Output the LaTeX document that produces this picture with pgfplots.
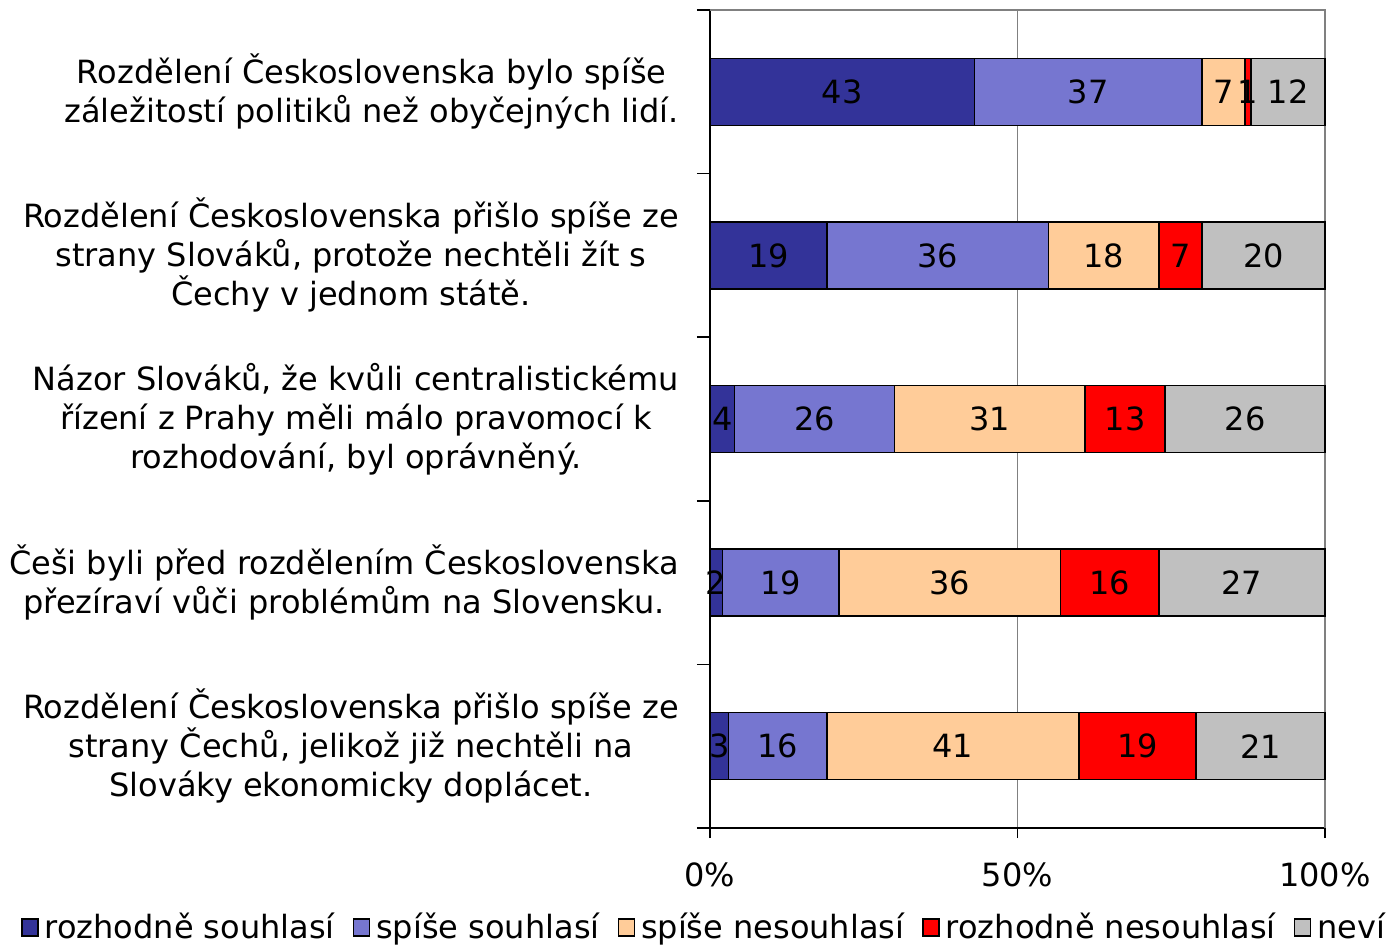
\documentclass[border=0pt]{standalone}
\usepackage{pgfplots}
\pgfplotsset{compat=1.18}
\usepackage{fontspec}
\setmainfont{DejaVu Sans}
\definecolor{c1}{HTML}{333399}
\definecolor{c2}{HTML}{7676D0}
\definecolor{c3}{HTML}{FFCC99}
\definecolor{c4}{HTML}{FF0000}
\definecolor{c5}{HTML}{C0C0C0}
\definecolor{gridc}{HTML}{808080}
\begin{document}
\fontsize{16}{19.5}\selectfont
\begin{tikzpicture}
\begin{axis}[
  xbar stacked,
  scale only axis,
  width=307.5pt, height=409pt,
  xmin=0, xmax=100,
  ymin=0.5, ymax=5.5,
  bar width=33.5pt,
  axis x line*=bottom, axis y line*=left,
  axis line style={black, line width=0.75pt},
  xtick={0,50,100},
  xticklabels={0\%,50\%,100\%},
  xmajorgrids,
  major x grid style={gridc, line width=0.75pt},
  ytick={1,2,3,4,5},
  yticklabels={
    {Rozdělení Československa přišlo spíše ze\\strany Čechů, jelikož již nechtěli na\\Slováky ekonomicky doplácet.},
    {Češi byli před rozdělením Československa\\přezíraví vůči problémům na Slovensku.},
    {Názor Slováků, že kvůli centralistickému\\řízení z Prahy měli málo pravomocí k\\rozhodování, byl oprávněný.},
    {Rozdělení Československa přišlo spíše ze\\strany Slováků, protože nechtěli žít s\\Čechy v jednom státě.},
    {Rozdělení Československa bylo spíše\\záležitostí politiků než obyčejných lidí.}
  },
  yticklabel style={align=center, font=\fontsize{16}{19.5}\selectfont, xshift=-5pt},
  xticklabel style={font=\fontsize{16}{19.5}\selectfont, yshift=-7pt},
  minor ytick={0.5,1.5,2.5,3.5,4.5,5.5},
  every major y tick/.append style={draw=none},
  every minor y tick/.append style={black, line width=0.75pt},
  every major x tick/.append style={black, line width=0.75pt},
  tick align=outside,
  major tick length=5pt,
  minor tick length=6.5pt,
  nodes near coords,
  point meta=explicit symbolic,
  every node near coord/.append style={anchor=center, font=\fontsize{16}{19.5}\selectfont, inner sep=0pt},
  legend columns=5,
  legend style={draw=none, inner sep=0pt, at={(-0.011,-0.122)}, anchor=center, font=\fontsize{16}{19.5}\selectfont,
    /tikz/every even column/.append style={column sep=9pt},
    /tikz/every odd column/.append style={column sep=3pt},
    nodes={inner sep=0pt}},
  legend image code/.code={\draw[#1, line width=0.75pt, draw=black] (0pt,-4pt) rectangle (8pt,4.5pt);},
  clip=false,
]
\addplot[fill=c1, draw=black, line width=0.75pt] coordinates {(3,1) [3] (2,2) [2] (4,3) [4] (19,4) [19] (43,5) [43]};
\addplot[fill=c2, draw=black, line width=0.75pt] coordinates {(16,1) [16] (19,2) [19] (26,3) [26] (36,4) [36] (37,5) [37]};
\addplot[fill=c3, draw=black, line width=0.75pt] coordinates {(41,1) [41] (36,2) [36] (31,3) [31] (18,4) [18] (7,5) [7]};
\addplot[fill=c4, draw=black, line width=0.75pt] coordinates {(19,1) [19] (16,2) [16] (13,3) [13] (7,4) [7] (1,5) [1]};
\addplot[fill=c5, draw=black, line width=0.75pt] coordinates {(21,1) [21] (27,2) [27] (26,3) [26] (20,4) [20] (12,5) [12]};
\legend{rozhodně souhlasí, spíše souhlasí, spíše nesouhlasí, rozhodně nesouhlasí, neví}
\draw[gridc, line width=0.75pt] (rel axis cs:0,1) -- (rel axis cs:1,1) -- (rel axis cs:1,0);
\coordinate (sw) at (rel axis cs:0,0);
\end{axis}
\pgfresetboundingbox
\path[use as bounding box] ([shift={(-355pt,-61pt)}]sw) rectangle ([shift={(342.5pt,414pt)}]sw);
\end{tikzpicture}
\end{document}
